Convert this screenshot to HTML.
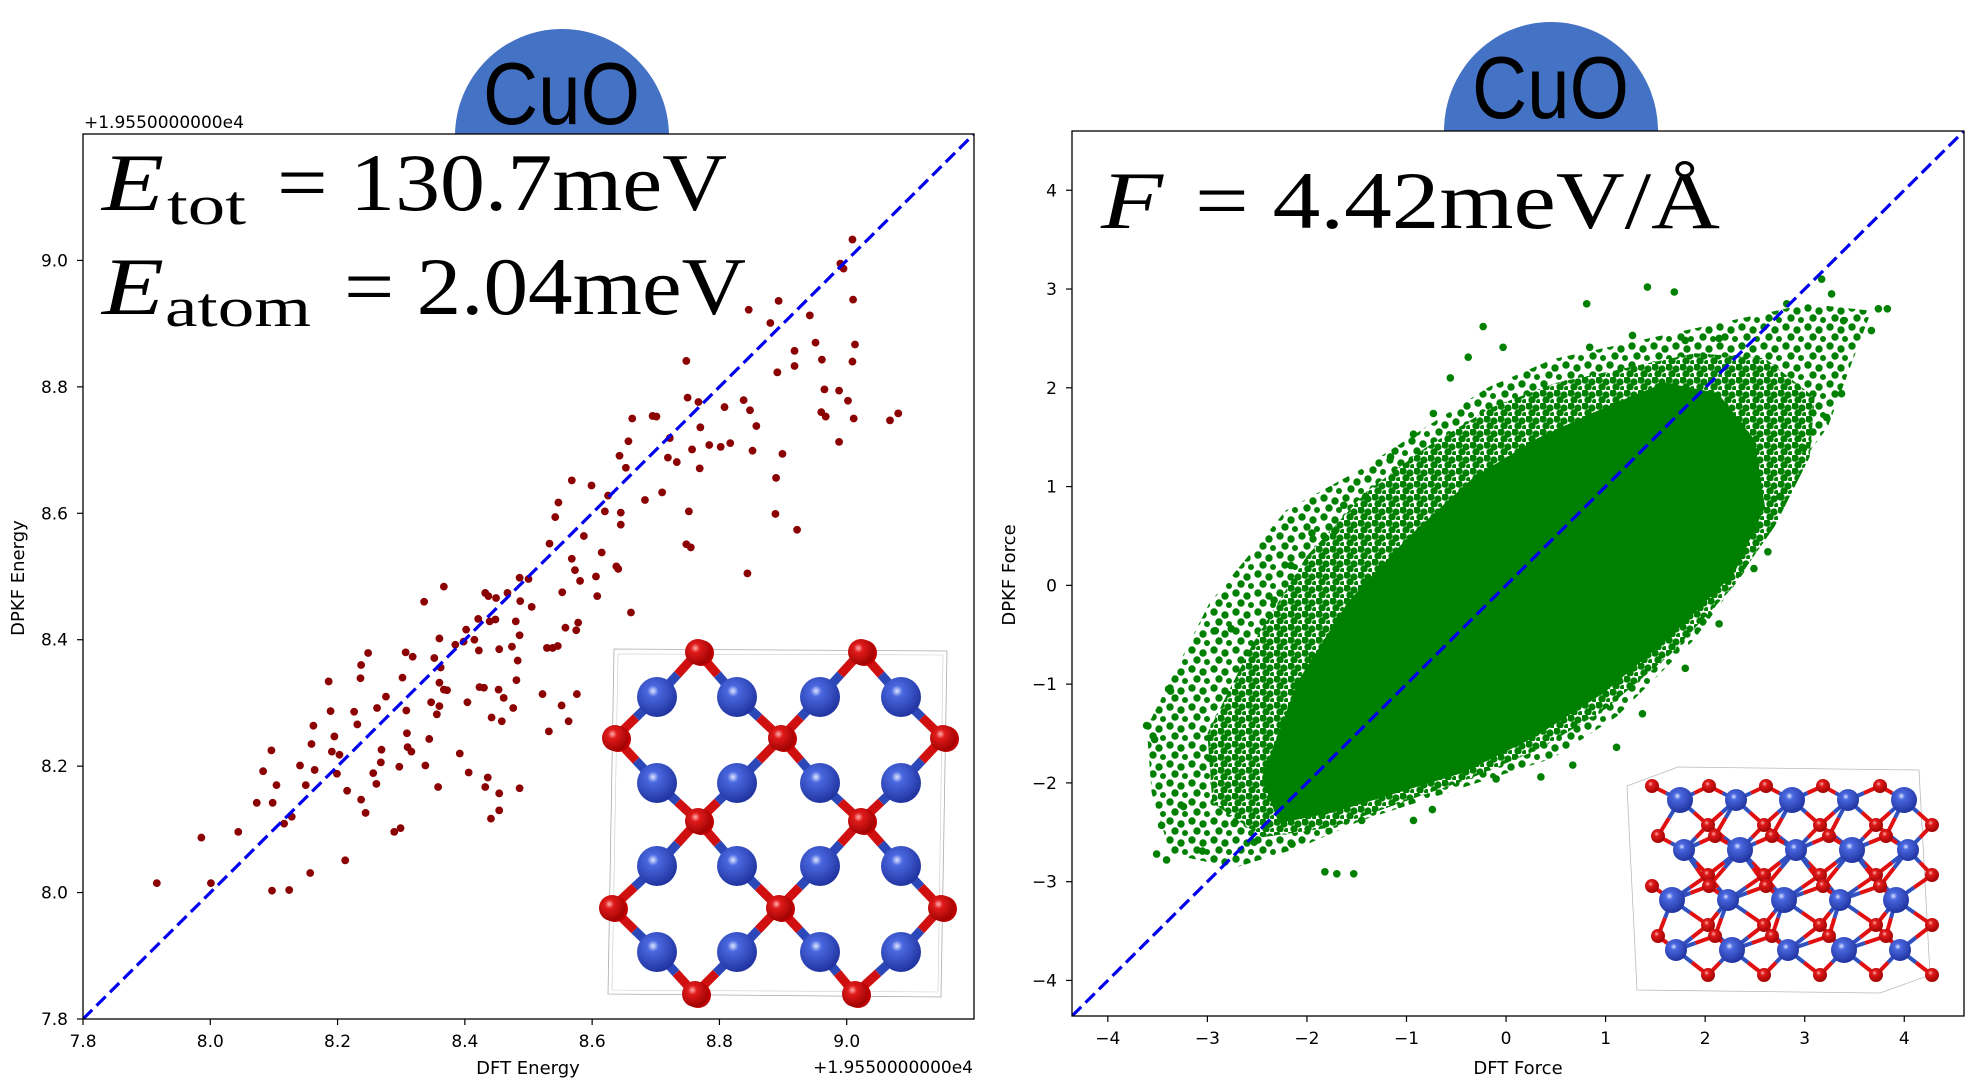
<!DOCTYPE html>
<html><head><meta charset="utf-8">
<style>
html,body{margin:0;padding:0;background:#fff;}
svg{display:block;}
text{font-family:"DejaVu Sans","Liberation Sans",sans-serif;}
.serif{font-family:"Liberation Serif","DejaVu Serif",serif;}
</style></head>
<body>
<svg id="root" width="1979" height="1082" viewBox="0 0 1979 1082" xmlns="http://www.w3.org/2000/svg">
<defs>
<radialGradient id="gBlue" cx="0.4" cy="0.35" r="0.7"><stop offset="0" stop-color="#dfe6ff"/><stop offset="0.2" stop-color="#4a68e0"/><stop offset="1" stop-color="#1d2f9a"/></radialGradient>
<radialGradient id="gRed" cx="0.4" cy="0.35" r="0.7"><stop offset="0" stop-color="#ffb0b0"/><stop offset="0.25" stop-color="#e01a1a"/><stop offset="1" stop-color="#9a0000"/></radialGradient>
<pattern id="speck" width="14" height="13" patternUnits="userSpaceOnUse"><rect width="14" height="13" fill="#ffffff"/><circle cx="3" cy="3" r="3.7" fill="#008000"/><circle cx="10" cy="5" r="3.6" fill="#008000"/><circle cx="6" cy="10" r="3.7" fill="#008000"/><circle cx="12.5" cy="11.5" r="2.5" fill="#008000"/></pattern>
<pattern id="speck2" width="22" height="19" patternUnits="userSpaceOnUse"><rect width="22" height="19" fill="#ffffff"/><circle cx="4" cy="4" r="3.7" fill="#008000"/><circle cx="15" cy="7" r="3.7" fill="#008000"/><circle cx="9" cy="14" r="3.7" fill="#008000"/><circle cx="19" cy="16" r="3" fill="#008000"/></pattern>
<clipPath id="clipL"><rect x="83" y="134" width="891" height="885"/></clipPath>
<clipPath id="clipR"><rect x="1072" y="131" width="892" height="885"/></clipPath>
<clipPath id="clipCapL"><rect x="0" y="0" width="1979" height="134"/></clipPath>
<clipPath id="clipCapR"><rect x="0" y="0" width="1979" height="131"/></clipPath>
</defs>

<g clip-path="url(#clipCapL)">
<ellipse cx="562" cy="136" rx="107" ry="107" fill="#4472c4"/>
</g>
<text x="483" y="124" font-size="88" textLength="157" lengthAdjust="spacingAndGlyphs" fill="#000" style="font-family:'Liberation Sans',sans-serif">CuO</text>
<g clip-path="url(#clipCapR)">
<ellipse cx="1551" cy="131" rx="107" ry="109" fill="#4472c4"/>
</g>
<text x="1472" y="118" font-size="88" textLength="157" lengthAdjust="spacingAndGlyphs" fill="#000" style="font-family:'Liberation Sans',sans-serif">CuO</text>

<g id="left"></g>
<g id="right"></g>
</svg>
<script>
// ---------- Energy parity data (offset +1.955e4) ----------
const energyDFT = [7.916,7.986,8.001,8.044,8.073,8.083,8.096,8.098,8.104,8.116,8.128,8.097,8.124,8.141,8.150,8.159,8.162,8.164,8.157,8.186,8.189,8.191,8.195,8.199,8.203,8.215,8.212,8.226,8.231,8.236,8.237,8.248,8.237,8.244,8.256,8.261,8.262,8.269,8.268,8.276,8.289,8.299,8.297,8.302,8.308,8.307,8.309,8.310,8.316,8.318,8.336,8.338,8.344,8.347,8.352,8.356,8.360,8.360,8.358,8.360,8.362,8.367,8.367,8.372,8.385,8.392,8.398,8.402,8.404,8.406,8.415,8.421,8.422,8.423,8.430,8.432,8.437,8.439,8.436,8.432,8.442,8.448,8.449,8.453,8.454,8.458,8.454,8.454,8.441,8.461,8.467,8.474,8.476,8.480,8.481,8.483,8.486,8.486,8.487,8.486,8.500,8.505,8.522,8.529,8.532,8.533,8.538,8.542,8.546,8.547,8.552,8.553,8.558,8.563,8.568,8.568,8.573,8.576,8.575,8.578,8.581,8.587,8.599,8.606,8.608,8.615,8.620,8.625,8.638,8.641,8.643,8.645,8.645,8.653,8.657,8.661,8.663,8.683,8.695,8.701,8.710,8.719,8.722,8.733,8.748,8.750,8.752,8.748,8.755,8.757,8.767,8.769,8.770,8.784,8.802,8.808,8.817,8.838,8.846,8.848,8.852,8.858,8.844,8.880,8.891,8.893,8.889,8.899,8.888,8.918,8.918,8.922,8.942,8.951,8.961,8.965,8.960,8.967,8.988,8.988,8.990,8.995,9.002,9.009,9.010,9.009,9.013,9.011,9.068,9.081];
const energyDPKF = [8.015,8.087,8.015,8.096,8.142,8.192,8.225,8.142,8.170,8.109,8.120,8.003,8.004,8.201,8.170,8.235,8.264,8.194,8.031,8.334,8.287,8.223,8.247,8.188,8.218,8.161,8.051,8.286,8.266,8.339,8.360,8.379,8.147,8.126,8.189,8.172,8.292,8.226,8.206,8.310,8.096,8.102,8.199,8.340,8.288,8.380,8.252,8.230,8.223,8.373,8.460,8.201,8.243,8.301,8.371,8.282,8.295,8.332,8.167,8.402,8.356,8.321,8.484,8.320,8.392,8.220,8.397,8.416,8.301,8.190,8.400,8.433,8.383,8.325,8.324,8.474,8.469,8.429,8.182,8.167,8.277,8.432,8.466,8.321,8.385,8.271,8.157,8.130,8.117,8.308,8.474,8.389,8.292,8.429,8.336,8.367,8.407,8.498,8.461,8.165,8.496,8.452,8.314,8.387,8.255,8.552,8.387,8.594,8.390,8.617,8.296,8.475,8.419,8.271,8.652,8.528,8.510,8.314,8.415,8.427,8.493,8.564,8.644,8.500,8.469,8.538,8.603,8.628,8.516,8.512,8.691,8.601,8.582,8.672,8.714,8.443,8.750,8.621,8.754,8.753,8.633,8.688,8.719,8.681,8.841,8.783,8.603,8.551,8.546,8.701,8.776,8.671,8.736,8.708,8.705,8.768,8.711,8.779,8.922,8.763,8.699,8.738,8.505,8.901,8.823,8.936,8.656,8.694,8.599,8.857,8.833,8.574,8.913,8.870,8.843,8.796,8.760,8.753,8.713,8.794,8.995,8.987,8.778,9.033,8.938,8.840,8.867,8.750,8.747,8.758];
const energyXTicks = [7.8,8.0,8.2,8.4,8.6,8.8,9.0];
const energyYTicks = [7.8,8.0,8.2,8.4,8.6,8.8,9.0];
const energyXTickLabels = ["7.8","8.0","8.2","8.4","8.6","8.8","9.0"];
const energyYTickLabels = ["7.8","8.0","8.2","8.4","8.6","8.8","9.0"];
const energyRange = [7.8,9.2];

// ---------- Force parity data ----------
const forceCoreX = [-2.40,-2.05,-1.55,-0.95,-0.30,0.35,1.00,1.60,2.10,2.45,2.55,2.25,1.60,0.95,0.25,-0.45,-1.10,-1.75,-2.25];
const forceCoreY = [-1.95,-1.00,-0.20,0.45,1.05,1.45,1.75,2.00,1.90,1.45,0.80,0.15,-0.50,-1.05,-1.50,-1.85,-2.05,-2.25,-2.35];
const forceMidX = [-3.00,-2.55,-2.00,-1.40,-0.80,-0.15,0.50,1.20,1.90,2.60,3.10,3.05,2.70,2.25,1.65,1.00,0.35,-0.35,-1.05,-1.75,-2.45,-2.95];
const forceMidY = [-1.50,-0.60,0.30,0.95,1.40,1.80,2.05,2.20,2.35,2.30,1.90,1.30,0.60,-0.05,-0.70,-1.25,-1.65,-1.95,-2.20,-2.45,-2.55,-2.20];
const forceHaloX = [-3.61,-2.98,-2.21,-1.45,-0.81,-0.17,0.47,1.11,2.07,3.03,3.67,3.23,2.71,2.39,1.88,1.11,0.47,-0.17,-0.81,-1.45,-2.09,-2.73,-3.37,-3.56];
const forceHaloY = [-1.44,-0.18,0.76,1.18,1.60,2.01,2.29,2.43,2.64,2.85,2.78,1.60,0.90,0.13,-0.56,-1.33,-1.75,-1.96,-2.17,-2.38,-2.66,-2.86,-2.72,-2.10];
const forceDFT = [-3.61,-3.53,-3.39,-3.37,-3.51,-3.41,-3.46,-2.92,-2.76,-2.33,-2.16,-1.95,-1.72,-1.63,-1.41,-1.16,-0.93,-0.73,-0.56,-0.38,-0.23,-0.03,0.81,0.84,1.42,1.69,1.27,1.80,2.14,2.82,3.17,3.27,3.39,3.74,3.83,3.67,3.37,3.22,2.99,2.75,2.63,2.49,2.14,1.80,1.37,1.11,0.67,0.35,-0.10,-0.74,-0.93,-1.45,-1.70,-1.53,-1.82,-2.15,-2.53,-2.73,-3.05,-3.24,-2.98];
const forceDPKF = [-1.42,-1.56,-1.05,-1.07,-2.72,-2.78,-2.43,-0.46,-0.44,-0.15,0.20,0.53,0.55,0.81,0.90,1.30,1.53,1.74,2.10,2.31,2.62,2.41,2.85,2.41,3.02,2.97,2.53,2.48,2.50,2.85,3.10,2.95,2.68,2.80,2.80,2.58,1.94,1.70,1.39,0.90,0.34,0.17,-0.39,-0.84,-1.30,-1.64,-1.82,-1.94,-1.96,-2.27,-2.38,-2.38,-2.92,-2.92,-2.90,-2.62,-2.60,-2.41,-2.69,-2.24,-1.75];
const forceTicks = [-4,-3,-2,-1,0,1,2,3,4];
const forceTickLabels = ["\u22124","\u22123","\u22122","\u22121","0","1","2","3","4"];
const forceRange = [-4.36,4.6];

const NS = "http://www.w3.org/2000/svg";
function mk(tag, attrs, parent){const e=document.createElementNS(NS,tag);for(const k in attrs)e.setAttribute(k,attrs[k]);parent.appendChild(e);return e;}
function axes(x0,x1,y0,y1,range){
  const sx=v=>x0+(v-range[0])/(range[1]-range[0])*(x1-x0);
  const sy=v=>y1-(v-range[0])/(range[1]-range[0])*(y1-y0);
  return {sx,sy};
}

// ===== LEFT =====
(function(){
  const g=document.getElementById('left');
  const X0=83,X1=974,Y0=134,Y1=1019;
  const {sx,sy}=axes(X0,X1,Y0,Y1,energyRange);
  const plot=mk('g',{'clip-path':'url(#clipL)'},g);
  
  
  for(let i=0;i<energyDFT.length;i++){
    const c=mk('circle',{cx:sx(energyDFT[i]),cy:sy(energyDPKF[i]),r:3.9,fill:'#8b0000'},plot);
    
    
  }
  const d=mk('line',{x1:sx(energyRange[0]),y1:sy(energyRange[0]),x2:sx(energyRange[1]),y2:sy(energyRange[1]),stroke:'#0000ee','stroke-width':3.2,'stroke-dasharray':'13 6'},plot);
  
  
  const cr=mk('g',{},g);
  
  
  mk('polygon',{points:'614,649 947,651 941,997 608,994',fill:'none',stroke:'#aaa','stroke-width':0.8},cr);
  mk('polygon',{points:'618,654 943,655 938,992 612,990',fill:'none',stroke:'#ccc','stroke-width':0.6},cr);
  const bx=[657,737,820,901], by=[697,783,866,952];
  const reds=[[698,652],[861,652],[615,738],[781,738],[943,738],[698,821],[861,821],[612,908],[779,908],[941,908],[695,994],[855,994]];
  const blues=[];by.forEach(y=>bx.forEach(x=>blues.push([x,y])));
  blues.forEach(b=>reds.forEach(r=>{const dd=Math.hypot(b[0]-r[0],b[1]-r[1]);if(dd<75){
    const mx=(b[0]+r[0])/2,my=(b[1]+r[1])/2;
    mk('line',{x1:b[0],y1:b[1],x2:mx,y2:my,stroke:'#2b47b8','stroke-width':9},cr);
    mk('line',{x1:mx,y1:my,x2:r[0],y2:r[1],stroke:'#d01010','stroke-width':9},cr);}}));
  blues.forEach(b=>mk('circle',{cx:b[0],cy:b[1],r:20,fill:'url(#gBlue)'},cr));
  reds.forEach(r=>{mk('circle',{cx:r[0]+3,cy:r[1]+1,r:13,fill:'#c00000'},cr);mk('circle',{cx:r[0],cy:r[1],r:13,fill:'url(#gRed)'},cr);});
  const fr=mk('rect',{x:X0,y:Y0,width:X1-X0,height:Y1-Y0,fill:'none',stroke:'#000','stroke-width':1.3},g);
  
  
  energyXTicks.forEach((v,i)=>{
    mk('line',{x1:sx(v),y1:Y1,x2:sx(v),y2:Y1+6,stroke:'#000','stroke-width':1.2},g);
    const t=mk('text',{x:sx(v),y:Y1+28,'font-size':17,'text-anchor':'middle'},g);
    t.textContent=energyXTickLabels[i];
    
    
  });
  energyYTicks.forEach((v,i)=>{
    mk('line',{x1:X0-6,y1:sy(v),x2:X0,y2:sy(v),stroke:'#000','stroke-width':1.2},g);
    const t=mk('text',{x:X0-15,y:sy(v)+6,'font-size':17,'text-anchor':'end'},g);
    t.textContent=energyYTickLabels[i];
    
    
  });
  let t=mk('text',{x:528,y:1074,'font-size':18,'text-anchor':'middle'},g);t.textContent='DFT Energy';
  
  
  t=mk('text',{x:24,y:578,'font-size':18,'text-anchor':'middle',transform:'rotate(-90 24 578)'},g);t.textContent='DPKF Energy';
  
  
  t=mk('text',{x:973,y:1073,'font-size':17,'text-anchor':'end'},g);t.textContent='+1.9550000000e4';
  
  
  t=mk('text',{x:84,y:128,'font-size':17},g);t.textContent='+1.9550000000e4';
  
  
  const a=mk('g',{},g);
  
  
  let e=mk('text',{x:102,y:210,'font-size':82,'font-style':'italic','class':'serif',textLength:62,lengthAdjust:'spacingAndGlyphs'},a);e.textContent='E';
  e=mk('text',{x:167,y:224,'font-size':56,'class':'serif',textLength:79,lengthAdjust:'spacingAndGlyphs'},a);e.textContent='tot';
  e=mk('text',{x:277,y:210,'font-size':82,'class':'serif',textLength:450,lengthAdjust:'spacingAndGlyphs'},a);e.textContent='= 130.7meV';
  e=mk('text',{x:102,y:314,'font-size':82,'font-style':'italic','class':'serif',textLength:62,lengthAdjust:'spacingAndGlyphs'},a);e.textContent='E';
  e=mk('text',{x:165,y:326,'font-size':56,'class':'serif',textLength:146,lengthAdjust:'spacingAndGlyphs'},a);e.textContent='atom';
  e=mk('text',{x:344,y:314,'font-size':82,'class':'serif',textLength:402,lengthAdjust:'spacingAndGlyphs'},a);e.textContent='= 2.04meV';
})();

// ===== RIGHT =====
(function(){
  const g=document.getElementById('right');
  const X0=1072,X1=1964,Y0=131,Y1=1016;
  const {sx,sy}=axes(X0,X1,Y0,Y1,forceRange);
  const plot=mk('g',{'clip-path':'url(#clipR)'},g);
  
  
  const halo=mk('polygon',{points:forceHaloX.map((x,i)=>sx(x)+','+sy(forceHaloY[i])).join(' '),fill:'url(#speck2)'},plot);
  
  
  const mid=mk('polygon',{points:forceMidX.map((x,i)=>sx(x)+','+sy(forceMidY[i])).join(' '),fill:'url(#speck)'},plot);
  
  
  const core=mk('polygon',{points:forceCoreX.map((x,i)=>sx(x)+','+sy(forceCoreY[i])).join(' '),fill:'#008000',stroke:'#008000','stroke-width':10,'stroke-linejoin':'round'},plot);
  
  
  for(let i=0;i<forceDFT.length;i++){
    const c=mk('circle',{cx:sx(forceDFT[i]),cy:sy(forceDPKF[i]),r:3.8,fill:'#008000'},plot);
    
    
  }
  const d=mk('line',{x1:sx(forceRange[0]),y1:sy(forceRange[0]),x2:sx(forceRange[1]),y2:sy(forceRange[1]),stroke:'#0000ee','stroke-width':3.2,'stroke-dasharray':'13 6'},plot);
  
  
  const cr=mk('g',{},g);
  
  
  mk('polygon',{points:'1627,786 1678,767 1919,770 1930,975 1880,993 1637,990',fill:'none',stroke:'#bbb','stroke-width':0.8},cr);
  const atoms=[];
  for(let r=0;r<4;r++){for(let c=0;c<5;c++){
    atoms.push({x:1680+c*56+(r%2)*8-r*4,y:800+r*50,t:'b',s:(c+r)%2?11:13});
    atoms.push({x:1652+c*57+(r%2)*6,y:786+r*50,t:'r',s:7});
    atoms.push({x:1680+c*56+28,y:825+r*50,t:'r',s:7});
  }}
  atoms.forEach(a=>{if(a.t==='b'){atoms.forEach(b=>{if(b.t==='r'){const dd=Math.hypot(a.x-b.x,a.y-b.y);if(dd<48){
    const mx=(a.x+b.x)/2,my=(a.y+b.y)/2;
    mk('line',{x1:a.x,y1:a.y,x2:mx,y2:my,stroke:'#3050c0','stroke-width':4},cr);
    mk('line',{x1:mx,y1:my,x2:b.x,y2:b.y,stroke:'#e01010','stroke-width':4},cr);}}});}});
  atoms.filter(a=>a.t==='r').forEach(a=>mk('circle',{cx:a.x,cy:a.y,r:a.s,fill:'url(#gRed)'},cr));
  atoms.filter(a=>a.t==='b').forEach(a=>mk('circle',{cx:a.x,cy:a.y,r:a.s,fill:'url(#gBlue)'},cr));
  const fr=mk('rect',{x:X0,y:Y0,width:X1-X0,height:Y1-Y0,fill:'none',stroke:'#000','stroke-width':1.3},g);
  
  
  forceTicks.forEach((v,i)=>{
    mk('line',{x1:sx(v),y1:Y1,x2:sx(v),y2:Y1+6,stroke:'#000','stroke-width':1.2},g);
    const t=mk('text',{x:sx(v),y:Y1+28,'font-size':17,'text-anchor':'middle'},g);
    t.textContent=forceTickLabels[i];
    
    
    mk('line',{x1:X0-6,y1:sy(v),x2:X0,y2:sy(v),stroke:'#000','stroke-width':1.2},g);
    const u=mk('text',{x:X0-15,y:sy(v)+6,'font-size':17,'text-anchor':'end'},g);
    u.textContent=forceTickLabels[i];
    
    
  });
  let t=mk('text',{x:1518,y:1074,'font-size':18,'text-anchor':'middle'},g);t.textContent='DFT Force';
  
  
  t=mk('text',{x:1015,y:575,'font-size':18,'text-anchor':'middle',transform:'rotate(-90 1015 575)'},g);t.textContent='DPKF Force';
  
  
  const a=mk('g',{},g);
  
  
  let e=mk('text',{x:1101,y:228,'font-size':82,'font-style':'italic','class':'serif',textLength:62,lengthAdjust:'spacingAndGlyphs'},a);e.textContent='F';
  e=mk('text',{x:1195,y:228,'font-size':82,'class':'serif',textLength:525,lengthAdjust:'spacingAndGlyphs'},a);e.textContent='= 4.42meV/Å';
})();
</script>
</body></html>
